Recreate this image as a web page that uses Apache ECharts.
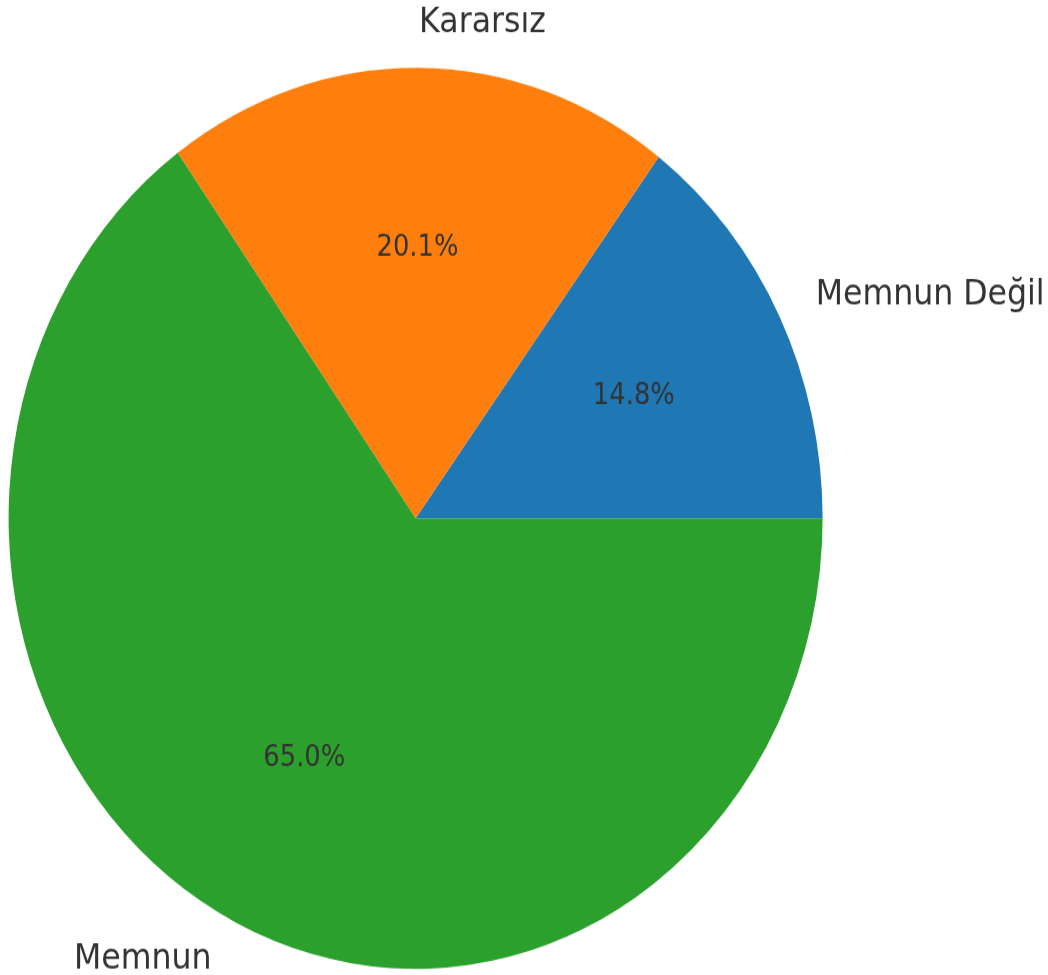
<!DOCTYPE html>
<html lang="tr">
<head>
    <meta charset="utf-8">
    <title>ECharts</title>
    <script src="https://cdn.jsdelivr.net/npm/echarts@6/dist/echarts.min.js"></script>
    <style>
        html, body { margin: 0; padding: 0; background: #fff; }
        body { height: 975px; }
        /* the reference image is stretched vertically, so the pie is an ellipse */
        #main { width: 1048px; height: 881px; transform: scaleY(1.107); transform-origin: 0 0; }
    </style>
</head>
<body>
<div id="main"></div>

<script type="text/javascript">
    // data
    var categories = ['Memnun Değil', 'Kararsız', 'Memnun'];
    var values = [14.8, 20.1, 65.0];
    var colors = ['#1f77b4', '#ff7f0e', '#2ca02c'];

    var R = 407;
    var center = [415.6, 468.2];

    var pieData = [];
    var pctData = [];
    for (var i = 0; i < categories.length; i++) {
        pieData.push({ name: categories[i], value: values[i], itemStyle: { color: colors[i] } });
        pctData.push({ name: categories[i], value: values[i] });
    }

    var myChart = echarts.init(document.getElementById('main'));

    var option = {
        animation: false,
        backgroundColor: '#ffffff',
        series: [{
            // slices + outer name labels (at 1.1 * radius)
            type: 'pie',
            silent: true,
            center: center,
            radius: [0, R],
            startAngle: 0,
            clockwise: false,
            avoidLabelOverlap: false,
            itemStyle: { borderWidth: 0 },
            emphasis: { disabled: true },
            label: {
                show: true,
                position: 'outside',
                formatter: '{b}',
                color: '#333333',
                fontFamily: 'DejaVu Sans',
                fontSize: 31.6,
                distanceToLabelLine: 0
            },
            labelLine: { show: false, length: R * 0.1, length2: 0 },
            data: pieData
        }, {
            // invisible ring so that the inside labels sit at 0.6 * radius
            // (echarts pushes inside labels 3px outward, hence the -3)
            type: 'pie',
            silent: true,
            center: center,
            radius: [R * 0.2 - 3, R - 3],
            startAngle: 0,
            clockwise: false,
            avoidLabelOverlap: false,
            itemStyle: { color: 'rgba(0,0,0,0)', borderWidth: 0 },
            emphasis: { disabled: true },
            label: {
                show: true,
                position: 'inside',
                formatter: function (p) { return p.value.toFixed(1) + '%'; },
                color: '#333333',
                fontFamily: 'DejaVu Sans',
                fontSize: 25.8,
                textBorderWidth: 0
            },
            labelLine: { show: false },
            data: pctData
        }]
    };

    myChart.setOption(option);
</script>
</body>
</html>
